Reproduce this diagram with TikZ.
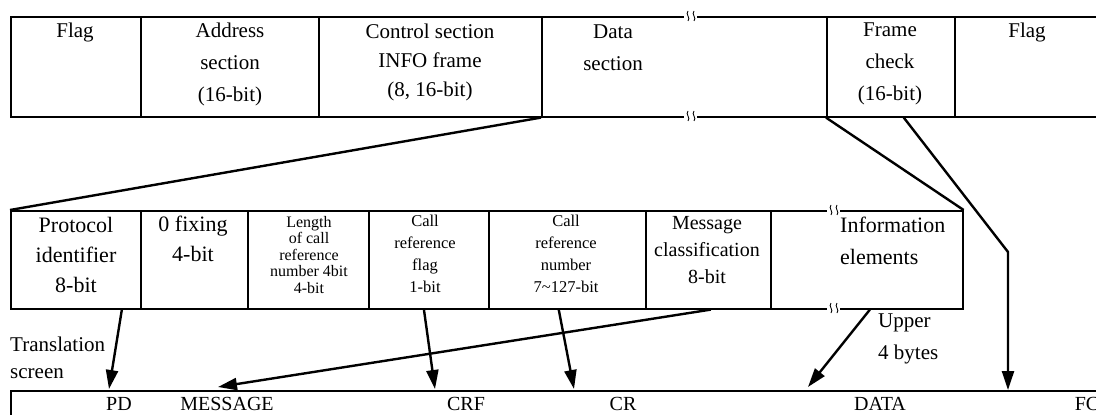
\documentclass[tikz,border=0pt]{standalone}
\usepackage{fontspec}
\setmainfont{Liberation Serif}
\usetikzlibrary{arrows.meta,calc}
\begin{document}
\begin{tikzpicture}[x=1pt,y=-1pt,
  cell/.style={draw, line width=1.6pt, rectangle, inner sep=0pt, anchor=north west},
  conn/.style={line width=2.4pt},
  arr/.style={line width=2.4pt, -{Triangle[length=19pt,width=12pt]}},
  txt/.style={inner sep=0pt, align=center},
  brk/.pic={
    \fill[white] (-6,-4) rectangle (7,4);
    \draw[line width=0.9pt] (-2,-5) .. controls (-5,-2) and (1,2) .. (-2,5);
    \draw[line width=0.9pt] (4,-5) .. controls (1,-2) and (7,2) .. (4,5);
  }
]
\useasboundingbox (0,0) rectangle (1096,415);

% top frame
\node[cell, minimum width=130pt, minimum height=100pt] (flagA) at (10,16) {};
\node[cell, minimum width=178pt, minimum height=100pt] (addr) at (140,16) {};
\node[cell, minimum width=223pt, minimum height=100pt] (ctrl) at (318,16) {};
\node[cell, minimum width=285pt, minimum height=100pt] (data) at (541,16) {};
\node[cell, minimum width=128pt, minimum height=100pt] (fcs) at (826,16) {};
\node[cell, minimum width=160pt, minimum height=100pt] (flagB) at (954,16) {};
\pic at (690,16) {brk};
\pic at (690,116) {brk};

% middle frame
\node[cell, minimum width=130pt, minimum height=98pt] (pi) at (10,210) {};
\node[cell, minimum width=107pt, minimum height=98pt] (zf) at (140,210) {};
\node[cell, minimum width=121pt, minimum height=98pt] (len) at (247,210) {};
\node[cell, minimum width=120pt, minimum height=98pt] (crf) at (368,210) {};
\node[cell, minimum width=157pt, minimum height=98pt] (crn) at (488,210) {};
\node[cell, minimum width=125pt, minimum height=98pt] (msg) at (645,210) {};
\node[cell, minimum width=192pt, minimum height=98pt] (ie) at (770,210) {};
\pic at (833,210) {brk};
\pic at (833,308) {brk};

% translation screen
\node[cell, line width=2pt, minimum width=1110pt, minimum height=60pt] (scr) at (10,390) {};

% top texts
\node[txt, font=\fontsize{21}{32}\selectfont] (tflagA) at (75,32) {Flag};
\node[txt, font=\fontsize{21}{32}\selectfont] (taddr) at (230,64) {Address\\section\\(16-bit)};
\node[txt, font=\fontsize{21}{29}\selectfont] (tctrl) at (430,62) {Control section\\INFO frame\\(8, 16-bit)};
\node[txt, font=\fontsize{21}{32}\selectfont] (tdata) at (613,48) {Data\\section};
\node[txt, font=\fontsize{21}{32}\selectfont] (tfcs) at (890,64) {Frame\\check\\(16-bit)};
\node[txt, font=\fontsize{21}{32}\selectfont] (tflagB) at (1027,32) {Flag};

% middle texts
\node[txt, font=\fontsize{22}{30}\selectfont] (tpi) at (76,255) {Protocol\\identifier\\8-bit};
\node[txt, font=\fontsize{22}{30}\selectfont] (tzf) at (193,239) {0 fixing\\4-bit};
\node[txt, font=\fontsize{16}{16.5}\selectfont] (tlen) at (309,255) {Length\\of call\\reference\\number 4bit\\4-bit};
\node[txt, font=\fontsize{16.5}{22}\selectfont] (tcrf) at (425,254) {Call\\reference\\flag\\1-bit};
\node[txt, font=\fontsize{16.5}{22}\selectfont] (tcrn) at (566,254) {Call\\reference\\number\\7\textasciitilde127-bit};
\node[txt, font=\fontsize{20}{27}\selectfont] (tmsg) at (707,250) {Message\\classification\\8-bit};
\node[txt, align=left, anchor=west, font=\fontsize{22}{32}\selectfont] (tie) at (840,241) {Information\\elements};

% side texts
\node[txt, align=left, anchor=west, font=\fontsize{21}{27}\selectfont] (ttr) at (10,358) {Translation\\screen};
\node[txt, align=left, anchor=west, font=\fontsize{21}{32}\selectfont] (tup) at (878,339) {Upper\\4 bytes};

% bottom labels
\node[txt, anchor=base, font=\fontsize{20}{24}\selectfont] (lpd) at (119,410) {PD};
\node[txt, anchor=base, font=\fontsize{20}{24}\selectfont] (lmsg) at (227,410) {MESSAGE};
\node[txt, anchor=base, font=\fontsize{20}{24}\selectfont] (lcrf) at (466,410) {CRF};
\node[txt, anchor=base, font=\fontsize{20}{24}\selectfont] (lcr) at (623,410) {CR};
\node[txt, anchor=base, font=\fontsize{20}{24}\selectfont] (ldata) at (880,410) {DATA};
\node[txt, anchor=base, font=\fontsize{20}{24}\selectfont] (lfc) at (1087,410) {FC};

% expansion lines
\draw[conn] (data.south west) -- (pi.north west);
\draw[conn] (fcs.south west) -- (ie.north east);
\coordinate (bend) at (1008,252);
\draw[arr] ($(fcs.south west)!0.6!(fcs.south east)$) -- (bend) -- (bend |- scr.north);

% arrows to translation screen
\draw[arr] ($(pi.south west)!0.85!(pi.south east)$) -- ($(scr.north west)+(99,-1)$);
\draw[arr] ($(crf.south west)!0.46!(crf.south east)$) -- ($(scr.north west)+(425,-1)$);
\draw[arr] ($(crn.south west)!0.446!(crn.south east)$) -- ($(scr.north west)+(564,-1)$);
\draw[arr] ($(msg.south west)!0.52!(msg.south east)$) -- ($(scr.north west)+(208,-3)$);
\draw[arr] ($(ie.south west)!0.516!(ie.south east)$) -- ($(scr.north west)+(798,-3)$);
\end{tikzpicture}
\end{document}
